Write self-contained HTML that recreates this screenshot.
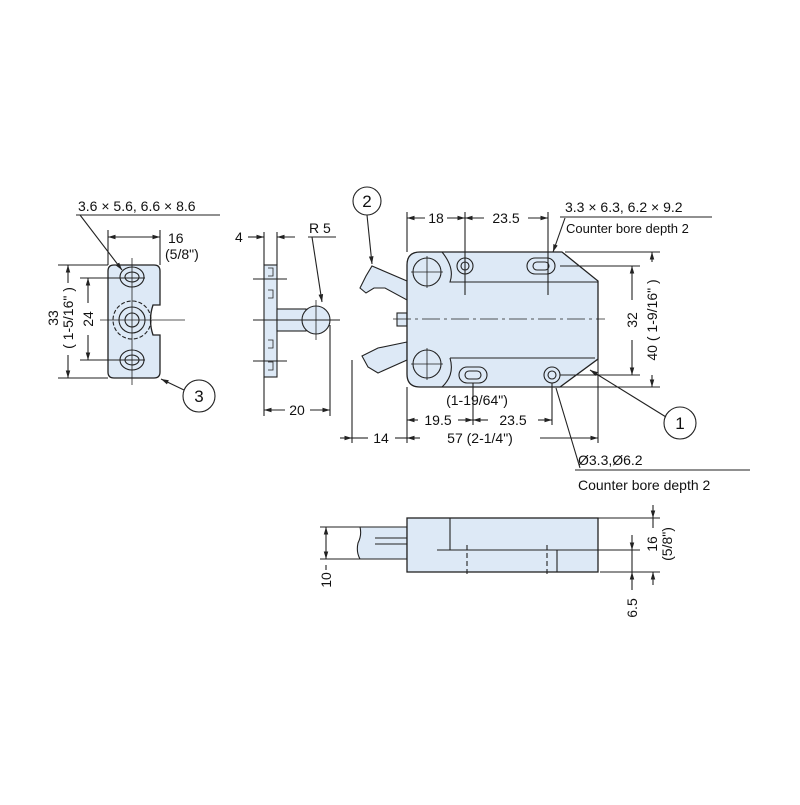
<!DOCTYPE html>
<html><head><meta charset="utf-8"><style>
html,body{margin:0;padding:0;background:#fff}
svg text{font-family:"Liberation Sans",sans-serif;fill:#111}
</style></head><body>
<svg width="800" height="800" viewBox="0 0 800 800" xmlns="http://www.w3.org/2000/svg">
<defs>
<marker id="a" viewBox="0 0 10 10" refX="10" refY="5" markerWidth="7" markerHeight="7" orient="auto-start-reverse"><path d="M0,2 L10,5 L0,8 z" fill="#222"/></marker>
</defs>
<g stroke="#222" stroke-width="1.1" fill="none">
<!-- PART 3 plate -->
<path d="M114,265 H154 Q160,265 160,271 V305 H153 Q148,320 153,335 H160 V372 Q160,378 154,378 H114 Q108,378 108,372 V271 Q108,265 114,265 Z" fill="#dde9f6" stroke-width="1.3"/>
<ellipse cx="132" cy="277" rx="12" ry="10"/><ellipse cx="132" cy="277" rx="7" ry="5"/>
<ellipse cx="132" cy="360" rx="12" ry="10"/><ellipse cx="132" cy="360" rx="7" ry="5"/>
<circle cx="132" cy="320" r="19" stroke-dasharray="4,2"/>
<circle cx="132" cy="320" r="13"/><circle cx="132" cy="320" r="7"/>
<line x1="132" y1="258" x2="132" y2="385" stroke-width="0.8"/>
<line x1="100" y1="320" x2="185" y2="320" stroke-width="0.8"/>
<!-- dims part 3 -->
<line x1="108" y1="230" x2="108" y2="265"/><line x1="160" y1="230" x2="160" y2="265"/>
<line x1="108" y1="237" x2="160" y2="237" marker-start="url(#a)" marker-end="url(#a)"/>
<line x1="76" y1="215" x2="220" y2="215"/>
<line x1="80" y1="215" x2="122" y2="270" marker-end="url(#a)"/>
<line x1="58" y1="265" x2="108" y2="265"/><line x1="58" y1="378" x2="108" y2="378"/>
<line x1="80" y1="278" x2="145" y2="278"/><line x1="80" y1="360" x2="145" y2="360"/>
<line x1="68" y1="265" x2="68" y2="283" marker-start="url(#a)"/><line x1="68" y1="355" x2="68" y2="378" marker-end="url(#a)"/>
<line x1="88" y1="278" x2="88" y2="303" marker-start="url(#a)"/><line x1="88" y1="335" x2="88" y2="360" marker-end="url(#a)"/>
<circle cx="199" cy="396" r="16"/>
<line x1="184" y1="390" x2="161" y2="379" marker-end="url(#a)"/>
<!-- ball part -->
<rect x="264" y="265" width="13" height="112" fill="#dde9f6"/>
<path d="M268,268 h5 v8 h-5 M268,290 h5 v8 h-5 M268,340 h5 v8 h-5 M268,362 h5 v8 h-5" stroke-width="0.8"/>
<rect x="277" y="309" width="29" height="22" fill="#dde9f6"/>
<circle cx="316" cy="320" r="14" fill="#dde9f6"/>
<line x1="253" y1="279" x2="287" y2="279"/><line x1="253" y1="320" x2="340" y2="320"/><line x1="253" y1="361" x2="287" y2="361"/>
<line x1="316" y1="300" x2="316" y2="340" stroke-width="0.8"/>
<line x1="264" y1="232" x2="264" y2="265"/><line x1="277" y1="232" x2="277" y2="265"/>
<line x1="248" y1="237" x2="264" y2="237" marker-end="url(#a)"/><line x1="295" y1="237" x2="277" y2="237" marker-end="url(#a)"/>
<line x1="308" y1="237" x2="336" y2="237"/>
<line x1="312" y1="237" x2="322" y2="302" marker-end="url(#a)"/>
<line x1="264" y1="377" x2="264" y2="416"/><line x1="330" y1="325" x2="330" y2="416"/>
<line x1="264" y1="410" x2="285" y2="410" marker-start="url(#a)"/><line x1="310" y1="410" x2="330" y2="410" marker-end="url(#a)"/>
<!-- main body -->
<path d="M372,266 L407,281 L407,300 L385,288 L374,288 L366,293 L360,288 L366,276 Z" fill="#dde9f6"/>
<path d="M407,342 L378,348 L362,356 L368,367 L378,373 L407,360 Z" fill="#dde9f6"/>
<rect x="397" y="313" width="10" height="13" fill="#dde9f6"/>
<path d="M420,252 H562 L598,281 V359 L560,387 H420 Q407,387 407,374 V265 Q407,252 420,252 Z" fill="#dde9f6" stroke-width="1.3"/>
<path d="M442,252 Q455,268 450,282 H598"/>
<path d="M450,358 Q455,375 442,387 M450,358 H595"/>
<line x1="393" y1="319" x2="605" y2="319" stroke-dasharray="18,4,3,4" stroke-width="0.8"/>
<circle cx="427" cy="272" r="14"/><circle cx="427" cy="364" r="14"/>
<path d="M411,272 H443 M427,256 V288 M411,364 H443 M427,348 V380" stroke-width="0.8"/>
<circle cx="465" cy="266" r="8"/><circle cx="465" cy="266" r="4"/>
<rect x="527" y="258" width="28" height="16" rx="8"/><rect x="533" y="262" width="16" height="8" rx="4"/>
<rect x="459" y="367" width="28" height="16" rx="8"/><rect x="465" y="371" width="16" height="8" rx="4"/>
<circle cx="552" cy="375" r="8"/><circle cx="552" cy="375" r="4"/>
<!-- main dims top -->
<line x1="407" y1="212" x2="407" y2="252"/><line x1="465" y1="212" x2="465" y2="295"/><line x1="548" y1="212" x2="548" y2="295"/>
<line x1="407" y1="218" x2="425" y2="218" marker-start="url(#a)"/><line x1="447" y1="218" x2="465" y2="218" marker-end="url(#a)"/>
<line x1="465" y1="218" x2="484" y2="218" marker-start="url(#a)"/><line x1="528" y1="218" x2="548" y2="218" marker-end="url(#a)"/>
<line x1="560" y1="217" x2="712" y2="217"/>
<line x1="565" y1="218" x2="553" y2="252" marker-end="url(#a)"/>
<circle cx="367" cy="201" r="14"/>
<line x1="367" y1="215" x2="372" y2="264" marker-end="url(#a)"/>
<!-- right dims -->
<line x1="565" y1="252" x2="660" y2="252"/><line x1="560" y1="266" x2="640" y2="266"/>
<line x1="560" y1="375" x2="640" y2="375"/><line x1="560" y1="387" x2="660" y2="387"/>
<line x1="632" y1="266" x2="632" y2="300" marker-start="url(#a)"/><line x1="632" y1="340" x2="632" y2="375" marker-end="url(#a)"/>
<line x1="652" y1="252" x2="652" y2="262" marker-start="url(#a)"/><line x1="652" y1="375" x2="652" y2="387" marker-end="url(#a)"/>
<circle cx="680" cy="423" r="16"/>
<line x1="666" y1="417" x2="590" y2="370" marker-end="url(#a)"/>
<!-- bottom dims -->
<line x1="352" y1="360" x2="352" y2="443"/><line x1="407" y1="387" x2="407" y2="443"/>
<line x1="473" y1="383" x2="473" y2="425"/><line x1="552" y1="383" x2="552" y2="425"/><line x1="598" y1="359" x2="598" y2="443"/>
<line x1="407" y1="420" x2="418" y2="420" marker-start="url(#a)"/><line x1="458" y1="420" x2="473" y2="420" marker-end="url(#a)"/>
<line x1="473" y1="420" x2="488" y2="420" marker-start="url(#a)"/><line x1="538" y1="420" x2="552" y2="420" marker-end="url(#a)"/>
<line x1="340" y1="438" x2="352" y2="438" marker-end="url(#a)"/><line x1="368" y1="438" x2="352" y2="438"/>
<line x1="395" y1="438" x2="407" y2="438"/><line x1="407" y1="438" x2="420" y2="438" marker-start="url(#a)"/>
<line x1="540" y1="438" x2="598" y2="438" marker-end="url(#a)"/>
<line x1="556" y1="388" x2="580" y2="468"/>
<line x1="575" y1="470" x2="750" y2="470"/>
<!-- bottom view -->
<path d="M360,527 H407 V559 H360 Q356,552 358,543 Q362,535 360,527 Z" fill="#dde9f6"/>
<line x1="375" y1="538" x2="407" y2="538"/><line x1="375" y1="544" x2="407" y2="544"/>
<rect x="407" y="518" width="191" height="54" fill="#dde9f6" stroke-width="1.3"/>
<line x1="450" y1="518" x2="450" y2="550"/><line x1="437" y1="550" x2="640" y2="550"/>
<line x1="467" y1="545" x2="467" y2="577" stroke-dasharray="5,3"/><line x1="547" y1="545" x2="547" y2="577" stroke-dasharray="5,3"/>
<line x1="557" y1="550" x2="557" y2="572"/>
<line x1="320" y1="527" x2="360" y2="527"/><line x1="320" y1="559" x2="360" y2="559"/>
<line x1="326" y1="527" x2="326" y2="543" marker-start="url(#a)"/><line x1="326" y1="543" x2="326" y2="559" marker-end="url(#a)"/>
<line x1="326" y1="565" x2="326" y2="570"/>
<line x1="598" y1="518" x2="660" y2="518"/><line x1="600" y1="572" x2="660" y2="572"/>
<line x1="653" y1="505" x2="653" y2="518" marker-end="url(#a)"/><line x1="653" y1="585" x2="653" y2="572" marker-end="url(#a)"/>
<line x1="653" y1="518" x2="653" y2="528"/>
<line x1="632" y1="535" x2="632" y2="550" marker-end="url(#a)"/><line x1="632" y1="590" x2="632" y2="572" marker-end="url(#a)"/>
<line x1="632" y1="550" x2="632" y2="572"/>
</g>
<!-- text -->
<g font-size="14">
<text x="78" y="211">3.6 × 5.6, 6.6 × 8.6</text>
<text x="168" y="243">16</text><text x="165" y="259">(5/8")</text>
<rect x="44" y="290" width="32" height="60" fill="#fff"/>
<text transform="translate(58,318) rotate(-90)" text-anchor="middle">33</text>
<text transform="translate(73,318) rotate(-90)" text-anchor="middle">( 1-5/16" )</text>
<text transform="translate(93,319) rotate(-90)" text-anchor="middle">24</text>
<text x="199" y="402" font-size="17" text-anchor="middle">3</text>
<text x="235" y="242">4</text>
<text x="309" y="233">R 5</text>
<text x="297" y="415" text-anchor="middle">20</text>
<text x="367" y="207" font-size="17" text-anchor="middle">2</text>
<text x="436" y="223" text-anchor="middle">18</text>
<text x="506" y="223" text-anchor="middle">23.5</text>
<text x="565" y="212">3.3 × 6.3, 6.2 × 9.2</text>
<text x="566" y="233" font-size="13">Counter bore depth 2</text>
<text transform="translate(637,320) rotate(-90)" text-anchor="middle">32</text>
<text transform="translate(657,320) rotate(-90)" text-anchor="middle">40 ( 1-9/16" )</text>
<text x="680" y="429" font-size="17" text-anchor="middle">1</text>
<text x="477" y="405" text-anchor="middle">(1-19/64")</text>
<text x="438" y="425" text-anchor="middle">19.5</text>
<text x="513" y="425" text-anchor="middle">23.5</text>
<text x="381" y="443" text-anchor="middle">14</text>
<text x="480" y="443" text-anchor="middle">57 (2-1/4")</text>
<text x="578" y="465">Ø3.3,Ø6.2</text>
<text x="578" y="490">Counter bore depth 2</text>
<text transform="translate(331,580) rotate(-90)" text-anchor="middle">10</text>
<text transform="translate(657,544) rotate(-90)" text-anchor="middle">16</text>
<text transform="translate(672,544) rotate(-90)" text-anchor="middle">(5/8")</text>
<text transform="translate(637,608) rotate(-90)" text-anchor="middle">6.5</text>
</g>
</svg>
</body></html>
